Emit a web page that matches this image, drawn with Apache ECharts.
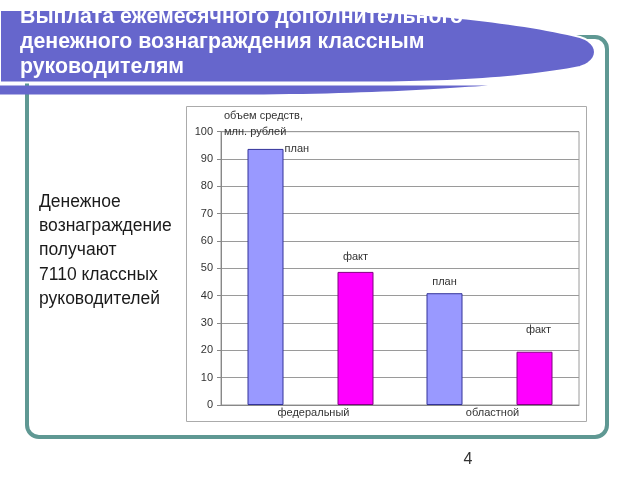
<!DOCTYPE html>
<html>
<head>
<meta charset="utf-8">
<script src="https://cdn.jsdelivr.net/npm/echarts@6/dist/echarts.min.js"></script>
<style>
html,body{margin:0;padding:0;background:#fff;}
#c{width:640px;height:480px;}
</style>
</head>
<body>
<div id="c"></div>
<script>
// ---- data ----
const categories = ['федеральный', 'областной'];
const seriesNames = ['план', 'факт'];
const planValues = [93.7, 40.9];
const factValues = [48.7, 19.5];
const yAxisName = 'объем средств,\nмлн. рублей';
const titleText = 'Выплата ежемесячного дополнительного\nденежного вознаграждения классным\nруководителям';
const sideText = 'Денежное\nвознаграждение\nполучают\n7110 классных\nруководителей';
const pageNumber = '4';

// ---- per-bar label placement (style only) ----
const FONT = '"Liberation Sans", Arial, sans-serif';
const planLabelPos = [
  {position: ['100%', 0], align: 'left', verticalAlign: 'middle', offset: [1, 0]},
  {position: 'top', distance: 6}
];
const factLabelPos = [
  {position: 'top', distance: 9},
  {position: 'top', distance: 16, offset: [4, 0]}
];

// decorative shape helper (slide title band)
function bez(p0, p1, p2, p3, n) {
  const out = [];
  for (let i = 0; i <= n; i++) {
    const t = i / n, u = 1 - t;
    out.push([
      u*u*u*p0[0] + 3*u*u*t*p1[0] + 3*u*t*t*p2[0] + t*t*t*p3[0],
      u*u*u*p0[1] + 3*u*u*t*p1[1] + 3*u*t*t*p2[1] + t*t*t*p3[1]
    ]);
  }
  return out;
}
const bandMain = [[0, 10], [330, 10]]
  .concat(bez([330, 10], [420, 12], [520, 22], [580, 37], 30).slice(1))
  .concat(bez([580, 37], [600, 43], [600, 61], [580, 67], 12).slice(1))
  .concat(bez([580, 67], [530, 77], [460, 82], [380, 82.5], 24).slice(1))
  .concat([[0, 82.5]]);
const bandLow = [[0, 85.5], [488, 85.5]]
  .concat(bez([488, 85.5], [440, 89], [360, 94], [250, 94.5], 24).slice(1))
  .concat([[0, 94.5]]);

const chart = echarts.init(document.getElementById('c'), null, {renderer: 'canvas'});
const labelBase = {show: true, formatter: '{a}', fontSize: 11, color: '#333', fontFamily: FONT};

chart.setOption({
  backgroundColor: '#fff',
  animation: false,
  grid: {left: 221, right: 61, top: 131.7, bottom: 75, show: true, borderColor: '#9a9a9a', borderWidth: 1},
  xAxis: {
    type: 'category',
    data: categories,
    axisLine: {lineStyle: {color: '#888'}},
    axisTick: {show: false},
    axisLabel: {fontSize: 11, color: '#333', margin: 2, fontFamily: FONT, padding: [0, 0, 0, 6]}
  },
  yAxis: {
    type: 'value', min: 0, max: 100, interval: 10,
    name: yAxisName,
    nameLocation: 'end',
    nameGap: -8,
    nameTextStyle: {align: 'left', verticalAlign: 'bottom', fontSize: 11, color: '#333', lineHeight: 16, padding: [0, 0, 0, 3], fontFamily: FONT},
    axisLine: {show: true, lineStyle: {color: '#888'}},
    axisTick: {show: true, length: 4, lineStyle: {color: '#888'}},
    axisLabel: {fontSize: 11, color: '#333', margin: 8, fontFamily: FONT},
    splitLine: {lineStyle: {color: '#9a9a9a'}}
  },
  series: [
    {
      type: 'bar', name: seriesNames[0], barWidth: 36, barGap: '150%',
      itemStyle: {color: '#9999ff', borderColor: '#333399', borderWidth: 1},
      label: labelBase,
      data: planValues.map((v, i) => ({value: v, label: planLabelPos[i]}))
    },
    {
      type: 'bar', name: seriesNames[1], barWidth: 36,
      itemStyle: {color: '#ff00ff', borderColor: '#800080', borderWidth: 1},
      label: labelBase,
      data: factValues.map((v, i) => ({value: v, label: factLabelPos[i]}))
    }
  ],
  graphic: [
    {type: 'rect', z: 0, shape: {x: 27, y: 37, width: 580, height: 400, r: 12},
     style: {fill: 'none', stroke: '#5f9893', lineWidth: 4}},
    {type: 'rect', z: 0, shape: {x: 186.5, y: 106.5, width: 400, height: 315},
     style: {fill: 'none', stroke: '#ababab', lineWidth: 1}},
    {type: 'polygon', z: 50, shape: {points: bandLow},
     style: {fill: '#6666cc'}},
    {type: 'polygon', z: 51, shape: {points: bandMain},
     style: {fill: '#6666cc', stroke: '#ffffff', lineWidth: 2}},
    {type: 'text', z: 60, x: 20, y: 5,
     style: {text: titleText, fill: '#ffffff', font: 'bold 21.3px ' + FONT, lineHeight: 25, verticalAlign: 'top'}},
    {type: 'text', z: 60, x: 39, y: 190,
     style: {text: sideText, fill: '#1a1a1a', font: '17.5px ' + FONT, lineHeight: 24.2, verticalAlign: 'top'}},
    {type: 'text', z: 60, x: 468, y: 460,
     style: {text: pageNumber, fill: '#333', font: '16px ' + FONT, align: 'center', verticalAlign: 'middle'}}
  ]
});
</script>
</body>
</html>
